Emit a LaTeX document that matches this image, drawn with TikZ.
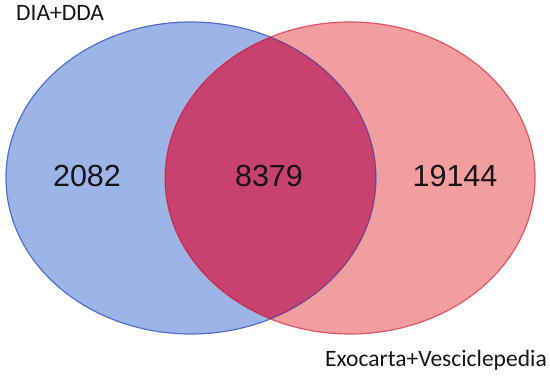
\documentclass[tikz,border=0pt]{standalone}
\usepackage{fontspec}
\newfontfamily\numfont{Liberation Sans}
\newfontfamily\labfont{Carlito}
\definecolor{bluefill}{RGB}{156,181,230}
\definecolor{blueline}{RGB}{77,112,205}
\definecolor{redfill}{RGB}{243,158,158}
\definecolor{redline}{RGB}{225,85,100}
\definecolor{lensfill}{RGB}{200,66,112}
\definecolor{lensline}{RGB}{175,35,80}
\definecolor{txt}{RGB}{25,20,25}
\begin{document}
\begin{tikzpicture}[x=1pt,y=-1pt,
  num/.style={font=\numfont\fontsize{30.5}{36}\selectfont, text=txt, inner sep=0pt},
  lab/.style={font=\labfont\fontsize{23.5}{28}\selectfont, text=txt, inner sep=0pt}]
\useasboundingbox (0,0) rectangle (550,379);
\fill[white] (0,0) rectangle (550,379);
\def\lefte{(191,178) ellipse [x radius=185, y radius=156]}
\def\righte{(350,178) ellipse [x radius=185, y radius=156]}
\fill[bluefill] \lefte;
\fill[redfill] \righte;
\begin{scope}
  \clip \lefte;
  \fill[lensfill] \righte;
\end{scope}
\draw[blueline, line width=1.2] \lefte;
\draw[redline, line width=1.2] \righte;
\begin{scope}
  \clip \lefte;
  \clip \righte;
  \draw[lensline, line width=1.3] \lefte;
  \draw[lensline, line width=1.3] \righte;
\end{scope}
\node[num] (a) at (87,176) {2082};
\node[num] (b) at (269,176) {8379};
\node[num] (c) at (455,176) {19144};
\node[lab, anchor=base west] (d) at (16,21) {DIA+DDA};
\node[lab, anchor=base west] (e) at (325,367) {Exocarta+Vesciclepedia};
\end{tikzpicture}
\end{document}
